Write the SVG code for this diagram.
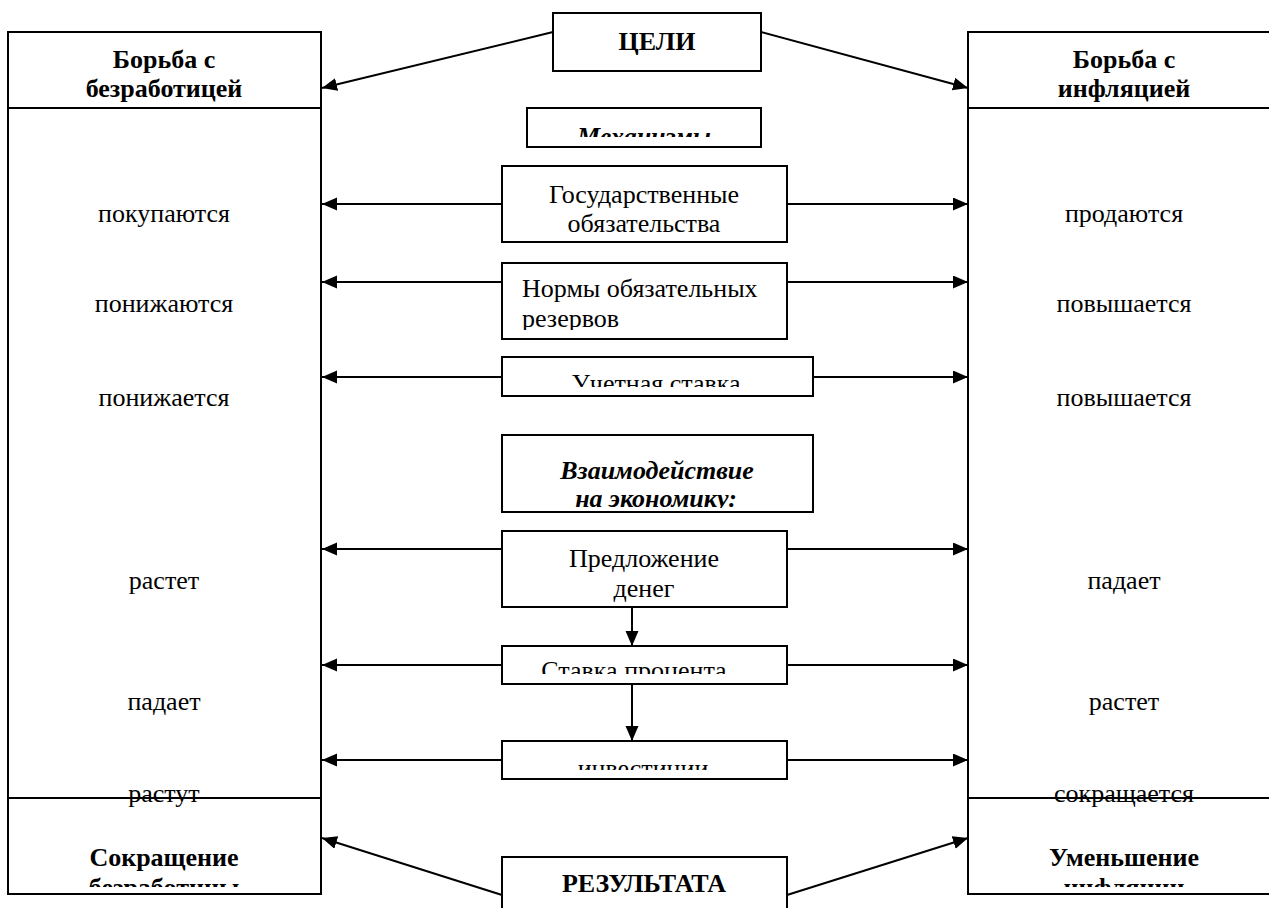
<svg xmlns="http://www.w3.org/2000/svg" width="1269" height="908" viewBox="0 0 1269 908">
<style>
.box{fill:#fff;stroke:#000;stroke-width:2}
.t{font-family:"Liberation Serif","Times New Roman",serif;font-size:26px;fill:#000}
.b{font-weight:bold}
.bi{font-weight:bold;font-style:italic}
.c{text-anchor:middle}
.conn{stroke:#000;stroke-width:2;fill:none;marker-end:url(#arr)}
</style>
<defs>
<marker id="arr" markerUnits="userSpaceOnUse" markerWidth="16" markerHeight="14" refX="15" refY="6.5" orient="auto">
<path d="M0,0 L15,6.5 L0,13 Z" fill="#000"/>
</marker>
<clipPath id="cMech"><rect x="527" y="108" width="234" height="29"/></clipPath>
<clipPath id="cNorm"><rect x="502" y="263" width="285" height="67"/></clipPath>
<clipPath id="cUch"><rect x="502" y="357" width="311" height="30"/></clipPath>
<clipPath id="cVz"><rect x="502" y="435" width="311" height="73"/></clipPath>
<clipPath id="cSt"><rect x="502" y="646" width="285" height="28"/></clipPath>
<clipPath id="cInv"><rect x="502" y="741" width="285" height="29"/></clipPath>
<clipPath id="cBL"><rect x="8" y="798" width="313" height="89"/></clipPath>
<clipPath id="cBR"><rect x="968" y="798" width="313" height="89"/></clipPath>
</defs>
<rect width="1269" height="908" fill="#fff"/>

<g id="left-column">
<rect class="box" x="8" y="32" width="313" height="76"/>
<rect class="box" x="8" y="108" width="313" height="690"/>
<rect class="box" x="8" y="798" width="313" height="96"/>
<text class="t b c" x="164" y="68">Борьба с</text>
<text class="t b c" x="164" y="97">безработицей</text>
<text class="t c" x="164" y="222">покупаются</text>
<text class="t c" x="164" y="312">понижаются</text>
<text class="t c" x="164" y="406">понижается</text>
<text class="t c" x="164" y="589">растет</text>
<text class="t c" x="164" y="710">падает</text>
<text class="t c" x="164" y="802">растут</text>
<text class="t b c" x="164" y="866">Сокращение</text>
<text class="t b c" x="164" y="896" clip-path="url(#cBL)">безработицы</text>
</g>

<g id="right-column">
<rect class="box" x="968" y="32" width="313" height="76"/>
<rect class="box" x="968" y="108" width="313" height="690"/>
<rect class="box" x="968" y="798" width="313" height="96"/>
<text class="t b c" x="1124" y="68">Борьба с</text>
<text class="t b c" x="1124" y="97">инфляцией</text>
<text class="t c" x="1124" y="222">продаются</text>
<text class="t c" x="1124" y="312">повышается</text>
<text class="t c" x="1124" y="406">повышается</text>
<text class="t c" x="1124" y="589">падает</text>
<text class="t c" x="1124" y="710">растет</text>
<text class="t c" x="1124" y="802">сокращается</text>
<text class="t b c" x="1124" y="866">Уменьшение</text>
<text class="t b c" x="1124" y="896" clip-path="url(#cBR)">инфляции</text>
</g>

<g id="connectors">
<line class="conn" x1="553" y1="32" x2="322" y2="88"/>
<line class="conn" x1="761" y1="32" x2="968" y2="88"/>
<line class="conn" x1="502" y1="204" x2="322" y2="204"/>
<line class="conn" x1="787" y1="204" x2="968" y2="204"/>
<line class="conn" x1="502" y1="282" x2="322" y2="282"/>
<line class="conn" x1="787" y1="282" x2="968" y2="282"/>
<line class="conn" x1="502" y1="377" x2="322" y2="377"/>
<line class="conn" x1="813" y1="377" x2="968" y2="377"/>
<line class="conn" x1="502" y1="549" x2="322" y2="549"/>
<line class="conn" x1="787" y1="549" x2="968" y2="549"/>
<line class="conn" x1="502" y1="665" x2="322" y2="665"/>
<line class="conn" x1="787" y1="665" x2="968" y2="665"/>
<line class="conn" x1="502" y1="760" x2="322" y2="760"/>
<line class="conn" x1="787" y1="760" x2="968" y2="760"/>
<line class="conn" x1="632" y1="607" x2="632" y2="646"/>
<line class="conn" x1="632" y1="684" x2="632" y2="741"/>
<line class="conn" x1="502" y1="895" x2="322" y2="838"/>
<line class="conn" x1="787" y1="895" x2="968" y2="838"/>
</g>

<g id="goals">
<rect class="box" x="553" y="13" width="208" height="58"/>
<text class="t b c" x="657" y="50">ЦЕЛИ</text>
</g>

<g id="mechanisms">
<rect class="box" x="527" y="108" width="234" height="39"/>
<text class="t bi c" x="644" y="145" clip-path="url(#cMech)">Механизмы</text>
</g>

<g id="gov-bonds">
<rect class="box" x="502" y="166" width="285" height="76"/>
<text class="t c" x="644" y="203">Государственные</text>
<text class="t c" x="644" y="232">обязательства</text>
</g>

<g id="reserve-norms">
<rect class="box" x="502" y="263" width="285" height="76"/>
<text class="t" x="522" y="297" clip-path="url(#cNorm)">Нормы обязательных</text>
<text class="t" x="522" y="327" clip-path="url(#cNorm)">резервов</text>
</g>

<g id="discount-rate">
<rect class="box" x="502" y="357" width="311" height="39"/>
<text class="t c" x="656" y="392" clip-path="url(#cUch)">Учетная ставка</text>
</g>

<g id="interaction">
<rect class="box" x="502" y="435" width="311" height="77"/>
<text class="t bi c" x="657" y="479" clip-path="url(#cVz)">Взаимодействие</text>
<text class="t bi c" x="656" y="507" clip-path="url(#cVz)">на экономику:</text>
</g>

<g id="money-supply">
<rect class="box" x="502" y="531" width="285" height="76"/>
<text class="t c" x="644" y="567">Предложение</text>
<text class="t c" x="644" y="597">денег</text>
</g>

<g id="interest-rate">
<rect class="box" x="502" y="646" width="285" height="38"/>
<text class="t c" x="634" y="679" clip-path="url(#cSt)">Ставка процента</text>
</g>

<g id="investment">
<rect class="box" x="502" y="741" width="285" height="38"/>
<text class="t c" x="643" y="777" clip-path="url(#cInv)">инвестиции</text>
</g>

<g id="results">
<rect class="box" x="502" y="857" width="285" height="60"/>
<text class="t b c" x="644" y="892">РЕЗУЛЬТАТА</text>
</g>
</svg>
